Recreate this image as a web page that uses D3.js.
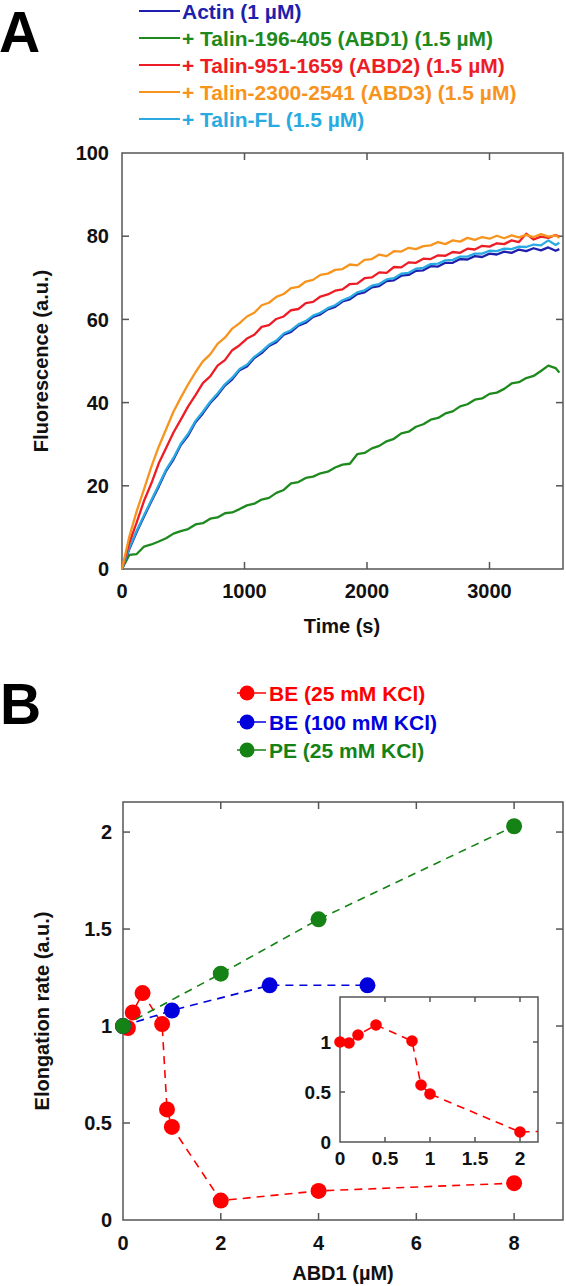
<!DOCTYPE html>
<html><head><meta charset="utf-8">
<script src="https://cdn.jsdelivr.net/npm/d3@7"></script>
<style>html,body{margin:0;padding:0;background:#fff}svg{display:block}text{font-family:"Liberation Sans",Arial,sans-serif;font-weight:bold}</style>
</head><body>
<script>
// ---------- Panel A data ----------
const timeS = [0,60,120,180,240,300,360,420,480,540,600,660,720,780,840,900,960,1020,1080,1140,1200,1260,1320,1380,1440,1500,1560,1620,1680,1740,1800,1860,1920,1980,2040,2100,2160,2220,2280,2340,2400,2460,2520,2580,2640,2700,2760,2820,2880,2940,3000,3060,3120,3180,3240,3300,3360,3420,3480,3540,3570];
const actinVals = [0,4.8,8.9,12.6,16.3,19.8,23.6,26.3,29.8,32.1,35.3,37.4,39.9,41.8,44.1,45.6,47.8,48.7,50.7,51.9,53.6,54.5,56.3,57.0,58.5,59.2,60.6,61.2,62.4,63.0,64.3,64.8,66.1,66.5,67.7,68.0,69.2,69.4,70.5,70.7,71.7,71.8,72.8,72.7,73.6,73.6,74.5,74.4,75.2,75.0,75.8,75.6,76.3,76.0,76.8,76.4,77.1,76.6,77.3,76.5,76.9];
const abd1Vals = [0,3.4,3.6,5.4,5.9,6.6,7.4,8.5,9.1,9.6,10.7,11.0,12.1,12.4,13.4,13.6,14.4,15.3,15.7,16.7,17.1,18.3,19.0,20.6,20.9,21.9,22.2,23.0,23.4,24.4,25.1,25.3,27.6,27.9,29.0,29.6,30.7,31.3,32.6,33.0,34.2,34.8,35.9,36.3,37.4,37.9,39.1,39.6,40.7,41.0,42.1,42.4,43.3,44.6,44.9,45.9,46.4,47.6,48.9,48.3,47.2];
const abd2Vals = [0,6.3,11.2,16.4,20.6,25.4,29.1,32.8,35.9,39.1,41.8,44.7,46.3,48.9,50.2,52.6,53.8,55.4,56.3,58.2,58.6,60.1,60.7,62.2,62.5,63.9,64.2,65.5,66.0,66.9,67.2,68.5,68.6,69.9,70.1,71.3,71.2,72.6,72.5,73.7,73.6,74.6,74.5,75.4,75.3,76.2,76.0,77.0,76.8,77.7,77.5,78.3,78.1,79.0,78.6,80.6,79.2,79.9,79.6,80.3,79.8];
const abd3Vals = [0,7.8,13.9,19.2,24.6,29.4,33.6,37.8,41.2,44.4,47.3,49.9,51.6,54.1,55.6,57.8,59.1,60.7,61.6,63.4,64.0,65.4,66.1,67.5,67.8,69.1,69.5,70.7,71.0,71.9,72.1,73.2,73.0,74.3,74.5,75.6,75.2,76.4,76.3,77.2,76.9,77.6,77.8,78.6,78.1,79.0,78.7,79.6,79.1,79.8,79.4,80.1,79.5,80.2,79.7,80.3,79.8,80.5,79.9,80.2,79.6];
const flVals = [0,5.1,9.2,12.9,16.6,20.2,23.9,26.7,30.1,32.5,35.6,37.8,40.2,42.2,44.4,46.0,48.1,49.1,51.0,52.3,53.9,54.9,56.6,57.4,58.8,59.6,60.9,61.6,62.7,63.4,64.6,65.3,66.5,67.0,68.1,68.5,69.6,69.9,71.0,71.2,72.2,72.4,73.3,73.4,74.2,74.3,75.1,75.1,75.8,75.8,76.5,76.4,77.0,76.9,77.5,77.4,78.0,77.8,79.0,77.9,78.4];
const seriesNamesA = ["Actin (1 µM)","+ Talin-196-405 (ABD1) (1.5 µM)","+ Talin-951-1659 (ABD2) (1.5 µM)","+ Talin-2300-2541 (ABD3) (1.5 µM)","+ Talin-FL (1.5 µM)"];
const seriesColorsA = ["#1f1fae","#1e8a1e","#ee1c25","#f7941d","#29abe2"];
const xTicksA = [0,1000,2000,3000];
const yTicksA = [0,20,40,60,80,100];

// ---------- Panel B data ----------
const be25X = [0,0.1,0.2,0.4,0.8,0.9,1,2,4,8];
const be25Y = [1.0,0.99,1.07,1.17,1.01,0.57,0.48,0.10,0.15,0.19];
const be100X = [0,1,3,5];
const be100Y = [1.0,1.08,1.21,1.21];
const pe25X = [0,2,4,8];
const pe25Y = [1.0,1.27,1.55,2.03];
const seriesNamesB = ["BE (25 mM KCl)","BE (100 mM KCl)","PE (25 mM KCl)"];
const seriesColorsB = ["#ff0000","#0000dd","#148214"];
const xTicksB = [0,2,4,6,8];
const yTicksB = [0,0.5,1,1.5,2];
const xTicksInset = [0,0.5,1,1.5,2];
const yTicksInset = [0,0.5,1];

const W = 566, H = 1286;
const svg = d3.select("body").append("svg").attr("width",W).attr("height",H);
const frameColor = "#555";

function frameAxes(g, x, y, xt, yt, tickLen, fontSize, xLabelDy, yLabelDx, fmtX, fmtY) {
  const [x0,x1] = x.range(), [y0,y1] = y.range();
  g.append("rect").attr("x",x0).attr("y",y1).attr("width",x1-x0).attr("height",y0-y1)
    .attr("fill","none").attr("stroke",frameColor).attr("stroke-width",1.5);
  const inner = xt.filter(v => x(v) > x0+1 && x(v) < x1-1);
  inner.forEach(v => {
    g.append("line").attr("x1",x(v)).attr("x2",x(v)).attr("y1",y0).attr("y2",y0-tickLen).attr("stroke",frameColor).attr("stroke-width",1.5);
    g.append("line").attr("x1",x(v)).attr("x2",x(v)).attr("y1",y1).attr("y2",y1+tickLen).attr("stroke",frameColor).attr("stroke-width",1.5);
  });
  const innerY = yt.filter(v => y(v) < y0-1 && y(v) > y1+1);
  innerY.forEach(v => {
    g.append("line").attr("y1",y(v)).attr("y2",y(v)).attr("x1",x0).attr("x2",x0+tickLen).attr("stroke",frameColor).attr("stroke-width",1.5);
    g.append("line").attr("y1",y(v)).attr("y2",y(v)).attr("x1",x1).attr("x2",x1-tickLen).attr("stroke",frameColor).attr("stroke-width",1.5);
  });
  xt.forEach(v => g.append("text").attr("x",x(v)).attr("y",y0+xLabelDy).attr("text-anchor","middle")
    .attr("font-size",fontSize).attr("fill","#111").text(fmtX(v)));
  yt.forEach(v => g.append("text").attr("x",x0-yLabelDx).attr("y",y(v)+fontSize*0.36).attr("text-anchor","end")
    .attr("font-size",fontSize).attr("fill","#111").text(fmtY(v)));
}

// ---------- Panel A ----------
const gA = svg.append("g");
const xA = d3.scaleLinear().domain([0,3600]).range([122,563]);
const yA = d3.scaleLinear().domain([0,100]).range([569,153]);
gA.append("text").attr("x",-1).attr("y",52).attr("font-size",57).attr("fill","#000").text("A");
const seriesA = [actinVals, abd1Vals, abd2Vals, abd3Vals, flVals];
const legendRowsA = [11,38,65,92,119];
seriesNamesA.forEach((n,i) => {
  gA.append("line").attr("x1",139).attr("x2",180).attr("y1",legendRowsA[i]).attr("y2",legendRowsA[i])
    .attr("stroke",seriesColorsA[i]).attr("stroke-width",2);
  gA.append("text").attr("x",182).attr("y",legendRowsA[i]+7.5).attr("font-size",21).attr("fill",seriesColorsA[i]).text(n);
});
frameAxes(gA, xA, yA, xTicksA, yTicksA, 7, 20, 29, 13, d=>d, d=>d);
const lineA = d3.line().x((d,i)=>xA(timeS[i])).y(d=>yA(d));
[1,0,4,2,3].forEach(i => {
  gA.append("path").attr("d",lineA(seriesA[i])).attr("fill","none").attr("stroke",seriesColorsA[i])
    .attr("stroke-width",2.3).attr("stroke-linejoin","round");
});
gA.append("text").attr("x",342).attr("y",633).attr("text-anchor","middle").attr("font-size",20).attr("fill","#111").text("Time (s)");
gA.append("text").attr("transform","translate(48,361) rotate(-90)").attr("text-anchor","middle").attr("font-size",20).attr("fill","#111").text("Fluorescence (a.u.)");

// ---------- Panel B ----------
const gB = svg.append("g");
gB.append("text").attr("x",0).attr("y",724).attr("font-size",57).attr("fill","#000").text("B");
const legendRowsB = [693,722,750];
seriesNamesB.forEach((n,i) => {
  gB.append("line").attr("x1",237).attr("x2",266).attr("y1",legendRowsB[i]).attr("y2",legendRowsB[i]).attr("stroke",seriesColorsB[i]).attr("stroke-width",1.5);
  gB.append("circle").attr("cx",247).attr("cy",legendRowsB[i]).attr("r",7.5).attr("fill",seriesColorsB[i]);
  gB.append("text").attr("x",269).attr("y",legendRowsB[i]+7.5).attr("font-size",21).attr("fill",seriesColorsB[i]).text(n);
});
const xB = d3.scaleLinear().domain([0,9]).range([123,563]);
const yB = d3.scaleLinear().domain([0,2.155]).range([1220,802]);
frameAxes(gB, xB, yB, xTicksB, yTicksB, 7, 20, 30, 11, d=>d, d=>d);
gB.append("text").attr("x",343).attr("y",1280).attr("text-anchor","middle").attr("font-size",20).attr("fill","#111").text("ABD1 (µM)");
gB.append("text").attr("transform","translate(49,1011) rotate(-90)").attr("text-anchor","middle").attr("font-size",20).attr("fill","#111").text("Elongation rate (a.u.)");

const seriesB = [[be25X,be25Y],[be100X,be100Y],[pe25X,pe25Y]];
function drawSeries(g, x, y, xs, ys, color, r, clipId) {
  const pts = xs.map((v,i)=>[v,ys[i]]);
  const ln = d3.line().x(d=>x(d[0])).y(d=>y(d[1]));
  const p = g.append("path").attr("d",ln(pts)).attr("fill","none").attr("stroke",color)
    .attr("stroke-width",1.6).attr("stroke-dasharray","8,6");
  if (clipId) p.attr("clip-path",`url(#${clipId})`);
  const dom = x.domain();
  g.selectAll(null).data(pts.filter(d=>d[0]>=dom[0] && d[0]<=dom[1])).enter().append("circle")
    .attr("cx",d=>x(d[0])).attr("cy",d=>y(d[1])).attr("r",r).attr("fill",color);
}
seriesB.forEach((s,i)=> drawSeries(gB, xB, yB, s[0], s[1], seriesColorsB[i], 8, null));

// ---------- Inset ----------
const xI = d3.scaleLinear().domain([0,2.2]).range([340,538]);
const yI = d3.scaleLinear().domain([0,1.45]).range([1142,997]);
svg.append("defs").append("clipPath").attr("id","insetClip").append("rect")
  .attr("x",340).attr("y",997).attr("width",198).attr("height",145);
const gI = svg.append("g");
gI.append("rect").attr("x",340).attr("y",997).attr("width",198).attr("height",145).attr("fill","#fff");
frameAxes(gI, xI, yI, xTicksInset, yTicksInset, 5, 19, 23, 9, d=>d, d=>d);
drawSeries(gI, xI, yI, be25X, be25Y, seriesColorsB[0], 5.8, "insetClip");
</script>
</body></html>
